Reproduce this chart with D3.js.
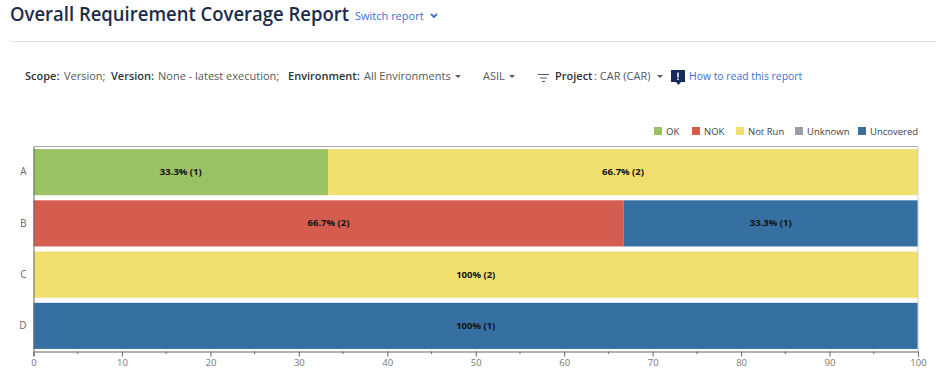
<!DOCTYPE html>
<html>
<head>
<meta charset="utf-8">
<script src="https://cdn.jsdelivr.net/npm/d3@7"></script>
<style>
  html, body { margin: 0; padding: 0; background: #fff; overflow: hidden; }
  svg { display: block; font-family: "Open Sans", sans-serif; }
</style>
</head>
<body>
<script>
const categories = ["A", "B", "C", "D"];
const statuses = ["OK", "NOK", "Not Run", "Unknown", "Uncovered"];
const statusColors = ["#9ac263", "#d45d50", "#f2e06e", "#9a9fa6", "#3670a3"];
const okValues = [33.3, 0, 0, 0];
const nokValues = [0, 66.7, 0, 0];
const notRunValues = [66.7, 0, 100, 0];
const unknownValues = [0, 0, 0, 0];
const uncoveredValues = [0, 33.3, 0, 100];
const barLabels = [
  ["33.3% (1)", "", "66.7% (2)", "", ""],
  ["", "66.7% (2)", "", "", "33.3% (1)"],
  ["", "", "100% (2)", "", ""],
  ["", "", "", "", "100% (1)"]
];
const majorTicks = [0, 10, 20, 30, 40, 50, 60, 70, 80, 90, 100];
const minorTicks = [5, 15, 25, 35, 45, 55, 65, 75, 85, 95];

const width = 936, height = 372;
const margin = { top: 146.5, right: 18, bottom: 20.5, left: 33.5 };

const svg = d3.select("body").append("svg")
  .attr("width", width)
  .attr("height", height);

// page header
svg.append("text").attr("x", 10).attr("y", 21)
  .attr("font-size", 19.1).attr("font-weight", 600).attr("fill", "#1d2b4a")
  .attr("textLength", 339).attr("lengthAdjust", "spacingAndGlyphs")
  .text("Overall Requirement Coverage Report");
svg.append("text").attr("x", 355).attr("y", 20)
  .attr("font-size", 11).attr("fill", "#3b6fd4")
  .text("Switch report");
svg.append("path").attr("d", "M431 14l3 3 3-3")
  .attr("fill", "none").attr("stroke", "#3b6fd4").attr("stroke-width", 1.8);
svg.append("line").attr("x1", 10).attr("x2", 936).attr("y1", 41.5).attr("y2", 41.5)
  .attr("stroke", "#e0e0e0");

// filter row
const filterRow = svg.append("text").attr("y", 80).attr("font-size", 11).attr("fill", "#55585e");
[["Scope:", 25, true], ["Version;", 64, false], ["Version:", 111, true], ["None - latest execution;", 158, false],
 ["Environment:", 288, true], ["All Environments", 364, false], ["ASIL", 483, false],
 ["Project", 555, true], [": CAR (CAR)", 594, false]]
  .forEach(([t, x, bold]) => {
    filterRow.append("tspan").attr("x", x)
      .attr("font-weight", bold ? 600 : 400)
      .attr("fill", bold ? "#2f3237" : "#55585e")
      .text(t);
  });
[455, 509, 657].forEach(x => {
  svg.append("path").attr("d", `M${x} 75h6l-3 3z`).attr("fill", "#55585e");
});
svg.append("path").attr("d", "M538 74.500h11M540 78h7M542 81.500h3").attr("stroke", "#55585e").attr("fill", "none");
svg.append("path").attr("d", "M671 70h14v12h-4l-2.500 3-2.500-3h-5z").attr("fill", "#172b5a");
svg.append("path").attr("d", "M678 72.500v5M678 78.500v1.500").attr("stroke", "#fff").attr("stroke-width", 1.5);
svg.append("text").attr("x", 689).attr("y", 80).attr("font-size", 10.400).attr("fill", "#3b6fd4")
  .text("How to read this report");

// legend
const legendX = [654, 692, 736, 795, 858];
statuses.forEach((s, i) => {
  svg.append("rect").attr("x", legendX[i]).attr("y", 127).attr("width", 8).attr("height", 8).attr("fill", statusColors[i]);
  svg.append("text").attr("x", legendX[i] + 12).attr("y", 135).attr("font-size", 9.500).attr("fill", "#3f4247").text(s);
});

// chart
const x = d3.scaleLinear().domain([0, 100]).range([margin.left, width - margin.right]);
const y = d3.scaleBand().domain(categories)
  .range([margin.top, height - margin.bottom])
  .paddingInner(0.1).paddingOuter(0.05);

const rows = categories.map((c, i) => ({
  category: c,
  "OK": okValues[i],
  "NOK": nokValues[i],
  "Not Run": notRunValues[i],
  "Unknown": unknownValues[i],
  "Uncovered": uncoveredValues[i]
}));
const series = d3.stack().keys(statuses)(rows);
const color = d3.scaleOrdinal().domain(statuses).range(statusColors);

series.forEach((layer, s) => {
  layer.forEach((d, r) => {
    if (d[1] - d[0] <= 0) return;
    svg.append("rect")
      .attr("x", x(d[0]))
      .attr("y", y(d.data.category))
      .attr("width", x(d[1]) - x(d[0]))
      .attr("height", y.bandwidth())
      .attr("fill", color(layer.key));
    svg.append("text")
      .attr("x", (x(d[0]) + x(d[1])) / 2)
      .attr("y", y(d.data.category) + y.bandwidth() / 2 + 3)
      .attr("text-anchor", "middle")
      .attr("font-size", 9.500).attr("font-weight", 700).attr("fill", "#111")
      .text(barLabels[r][s]);
  });
});

// top and right frame
svg.append("line").attr("x1", x(0)).attr("x2", x(100)).attr("y1", margin.top).attr("y2", margin.top).attr("stroke", "#aaa");
svg.append("line").attr("x1", x(100)).attr("x2", x(100)).attr("y1", margin.top).attr("y2", height - margin.bottom).attr("stroke", "#ccc");

const xAxis = svg.append("g")
  .attr("transform", `translate(0,${height - margin.bottom})`)
  .call(d3.axisBottom(x).tickValues(majorTicks).tickSize(5).tickPadding(3));
xAxis.select(".domain").attr("stroke", "#666");
xAxis.selectAll(".tick line").attr("stroke", "#666");
xAxis.selectAll("text").attr("font-size", 9.5).attr("font-family", "'Open Sans', sans-serif").attr("fill", "#777");

svg.append("g").attr("transform", `translate(0,${height - margin.bottom})`)
  .selectAll("line").data(minorTicks).join("line")
  .attr("x1", d => x(d)).attr("x2", d => x(d)).attr("y1", 0).attr("y2", 2.5)
  .attr("stroke", "#666");

const yAxis = svg.append("g")
  .attr("transform", `translate(${margin.left},0)`)
  .call(d3.axisLeft(y).tickSize(0).tickPadding(7));
yAxis.select(".domain").attr("stroke", "#666");
yAxis.selectAll("text").attr("font-size", 10).attr("font-family", "'Open Sans', sans-serif").attr("fill", "#666");
</script>
</body>
</html>
